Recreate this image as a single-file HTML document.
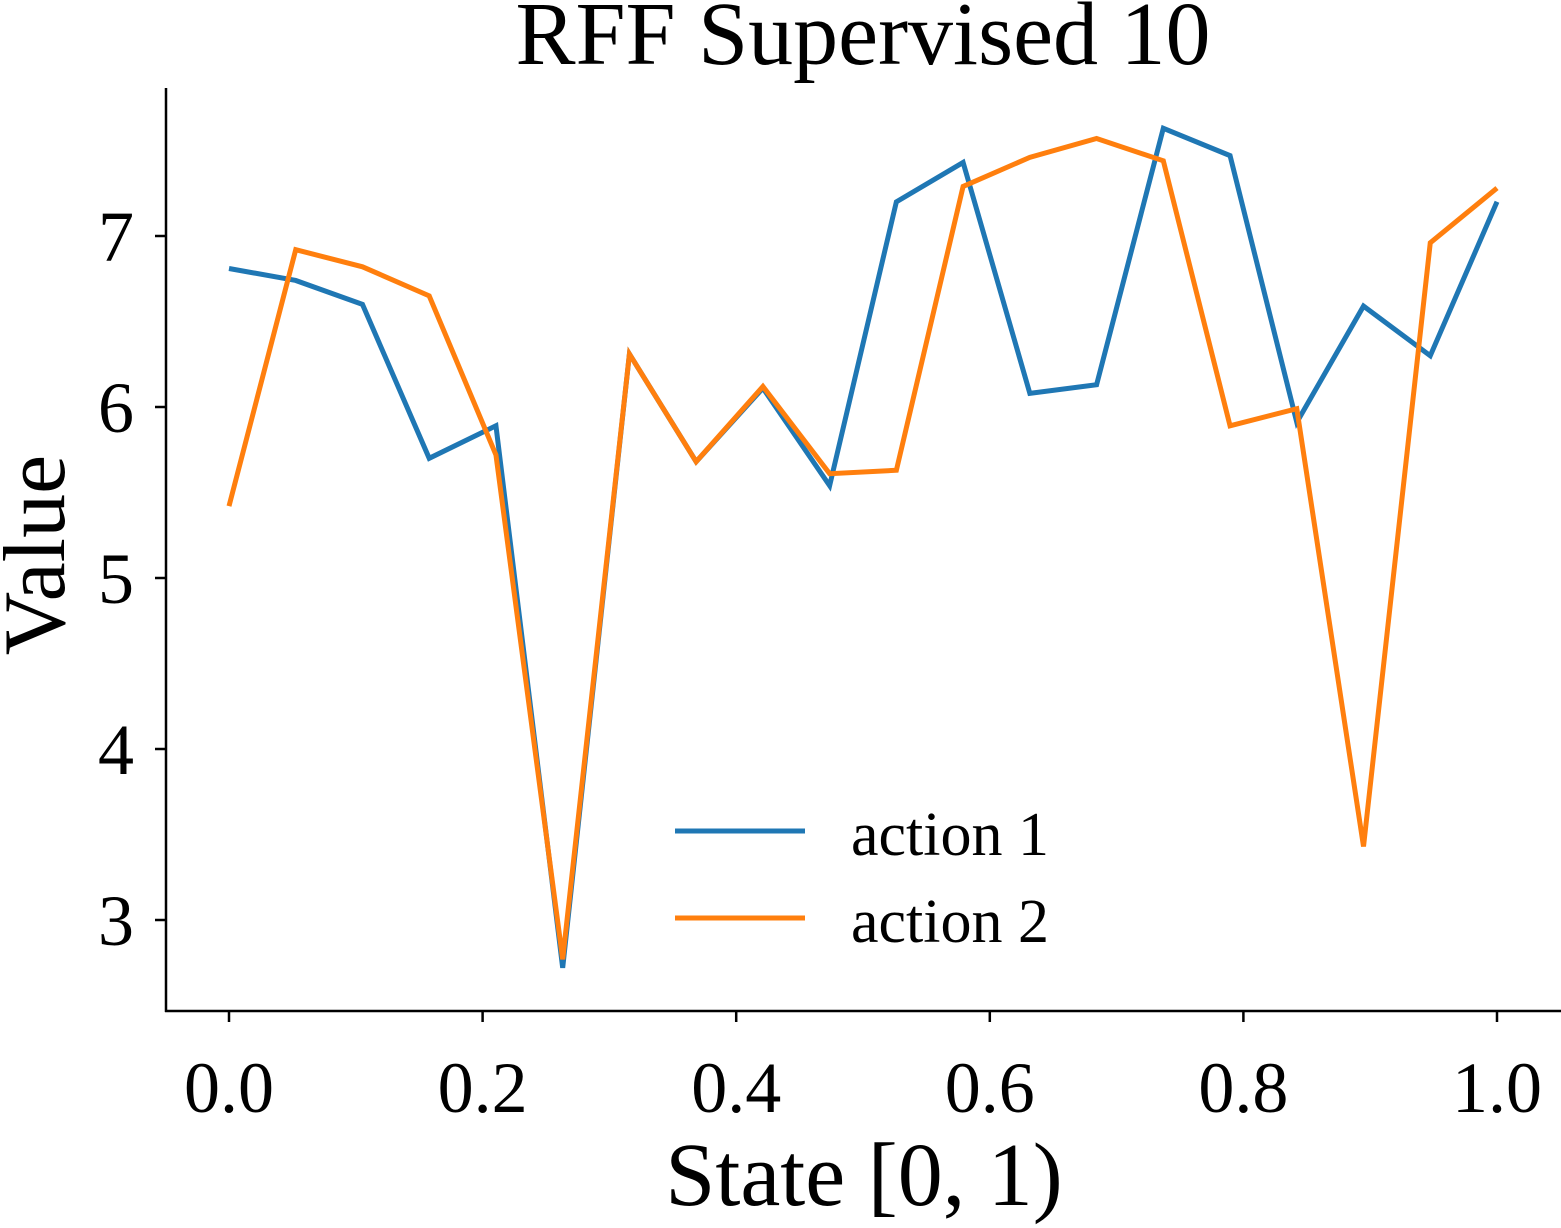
<!DOCTYPE html>
<html><head><meta charset="utf-8"><style>
html,body{margin:0;padding:0;background:#fff;}
svg{display:block;font-family:"Liberation Serif",serif;}
</style></head><body>
<svg id="chart" width="1561" height="1228">
<text x="863" y="64" text-anchor="middle" font-size="90">RFF Supervised 10</text>
<text x="864" y="1205" text-anchor="middle" font-size="90">State [0, 1)</text>
<text transform="translate(64,555) rotate(-90)" text-anchor="middle" font-size="88">Value</text>
<g id="ticks"></g>
<g id="lines"></g>
<line x1="166" y1="88" x2="166" y2="1012" stroke="#000" stroke-width="2.5"/>
<line x1="165" y1="1011" x2="1561" y2="1011" stroke="#000" stroke-width="2.5"/>
<g>
<line x1="675" y1="831" x2="805" y2="831" stroke="#1f77b4" stroke-width="5"/>
<text x="851" y="855" font-size="62">action 1</text>
<line x1="675" y1="918" x2="805" y2="918" stroke="#ff7f0e" stroke-width="5"/>
<text x="851" y="942" font-size="62">action 2</text>
</g>
</svg>
<script>
const action1 = [6.81,6.74,6.60,5.70,5.89,2.72,6.31,5.68,6.11,5.54,7.20,7.43,6.08,6.13,7.63,7.47,5.91,6.59,6.30,7.20];
const action2 = [5.42,6.92,6.82,6.65,5.72,2.77,6.31,5.68,6.12,5.61,5.63,7.29,7.46,7.57,7.44,5.89,5.99,3.43,6.96,7.28];
const xTicks = [0.0,0.2,0.4,0.6,0.8,1.0];
const xTickLabels = ["0.0","0.2","0.4","0.6","0.8","1.0"];
const yTicks = [3,4,5,6,7];

const xs = v => 229 + v*1268;
const ys = v => 236 - (v-7)*171;
const NS = "http://www.w3.org/2000/svg";
const tg = document.getElementById('ticks');
xTicks.forEach((t,i)=>{
  const l=document.createElementNS(NS,'line');
  l.setAttribute('x1',xs(t));l.setAttribute('x2',xs(t));l.setAttribute('y1',1011);l.setAttribute('y2',1022);
  l.setAttribute('stroke','#000');l.setAttribute('stroke-width','2.5');
  
  
  tg.appendChild(l);
  const tx=document.createElementNS(NS,'text');
  tx.setAttribute('x',xs(t));tx.setAttribute('y',1112);tx.setAttribute('text-anchor','middle');tx.setAttribute('font-size','72');
  tx.textContent=xTickLabels[i];
  
  
  tg.appendChild(tx);
});
yTicks.forEach(t=>{
  const l=document.createElementNS(NS,'line');
  l.setAttribute('x1',155);l.setAttribute('x2',166);l.setAttribute('y1',ys(t));l.setAttribute('y2',ys(t));
  l.setAttribute('stroke','#000');l.setAttribute('stroke-width','2.5');
  
  
  tg.appendChild(l);
  const tx=document.createElementNS(NS,'text');
  tx.setAttribute('x',134);tx.setAttribute('y',ys(t)+25);tx.setAttribute('text-anchor','end');tx.setAttribute('font-size','72');
  tx.textContent=String(t);
  
  
  tg.appendChild(tx);
});
const lg=document.getElementById('lines');
[[action1,'#1f77b4','line-action-1'],[action2,'#ff7f0e','line-action-2']].forEach(([d,c,n])=>{
  const p=document.createElementNS(NS,'polyline');
  p.setAttribute('points',d.map((v,i)=>xs(i/(d.length-1))+','+ys(v)).join(' '));
  p.setAttribute('fill','none');p.setAttribute('stroke',c);p.setAttribute('stroke-width','5');
  
  
  lg.appendChild(p);
});
</script>
</body></html>
